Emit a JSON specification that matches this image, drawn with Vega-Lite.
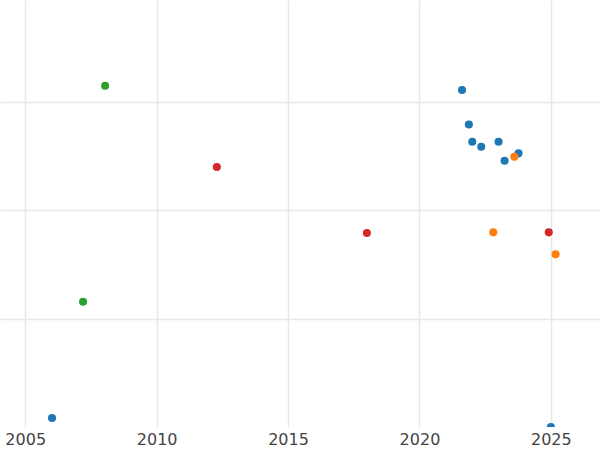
{
  "$schema": "https://vega.github.io/schema/vega-lite/v6.json",
  "width": 600,
  "height": 427,
  "padding": 0,
  "autosize": {"type": "pad"},
  "background": "white",
  "config": {"view": {"stroke": null}},
  "data": {
    "values": [
      {"year": 2021.62, "value": 3.109, "series": "A"},
      {"year": 2021.88, "value": 2.792, "series": "A"},
      {"year": 2022.01, "value": 2.632, "series": "A"},
      {"year": 2022.35, "value": 2.586, "series": "A"},
      {"year": 2023.01, "value": 2.632, "series": "A"},
      {"year": 2023.24, "value": 2.457, "series": "A"},
      {"year": 2023.77, "value": 2.525, "series": "A"},
      {"year": 2006.02, "value": 0.083, "series": "A"},
      {"year": 2025.0, "value": 0.0, "series": "A"},
      {"year": 2023.61, "value": 2.494, "series": "B"},
      {"year": 2022.81, "value": 1.796, "series": "B"},
      {"year": 2025.18, "value": 1.593, "series": "B"},
      {"year": 2008.04, "value": 3.149, "series": "C"},
      {"year": 2007.2, "value": 1.156, "series": "C"},
      {"year": 2012.29, "value": 2.399, "series": "D"},
      {"year": 2018.0, "value": 1.79, "series": "D"},
      {"year": 2024.92, "value": 1.796, "series": "D"}
    ]
  },
  "mark": {"type": "circle", "size": 65, "opacity": 1, "clip": true},
  "encoding": {
    "x": {
      "field": "year", "type": "quantitative",
      "scale": {"domain": [2004.04, 2026.87], "nice": false, "zero": false},
      "axis": {
        "title": null, "values": [2005, 2010, 2015, 2020, 2025], "format": "d",
        "domain": false, "ticks": false, "labelPadding": 4,
        "labelFont": "DejaVu Sans", "labelFontSize": 16, "labelColor": "#444444",
        "gridColor": "#e8e8e8", "gridWidth": 1.5, "labelFlush": false
      }
    },
    "y": {
      "field": "value", "type": "quantitative",
      "scale": {"domain": [0, 3.94], "nice": false, "zero": false},
      "axis": {
        "title": null, "values": [1, 2, 3], "labels": false, "domain": false, "ticks": false,
        "gridColor": "#e8e8e8", "gridWidth": 1.5
      }
    },
    "color": {
      "field": "series", "type": "nominal",
      "scale": {"domain": ["A", "B", "C", "D"], "range": ["#1f77b4", "#ff7f0e", "#2ca02c", "#d62728"]},
      "legend": null
    }
  }
}
